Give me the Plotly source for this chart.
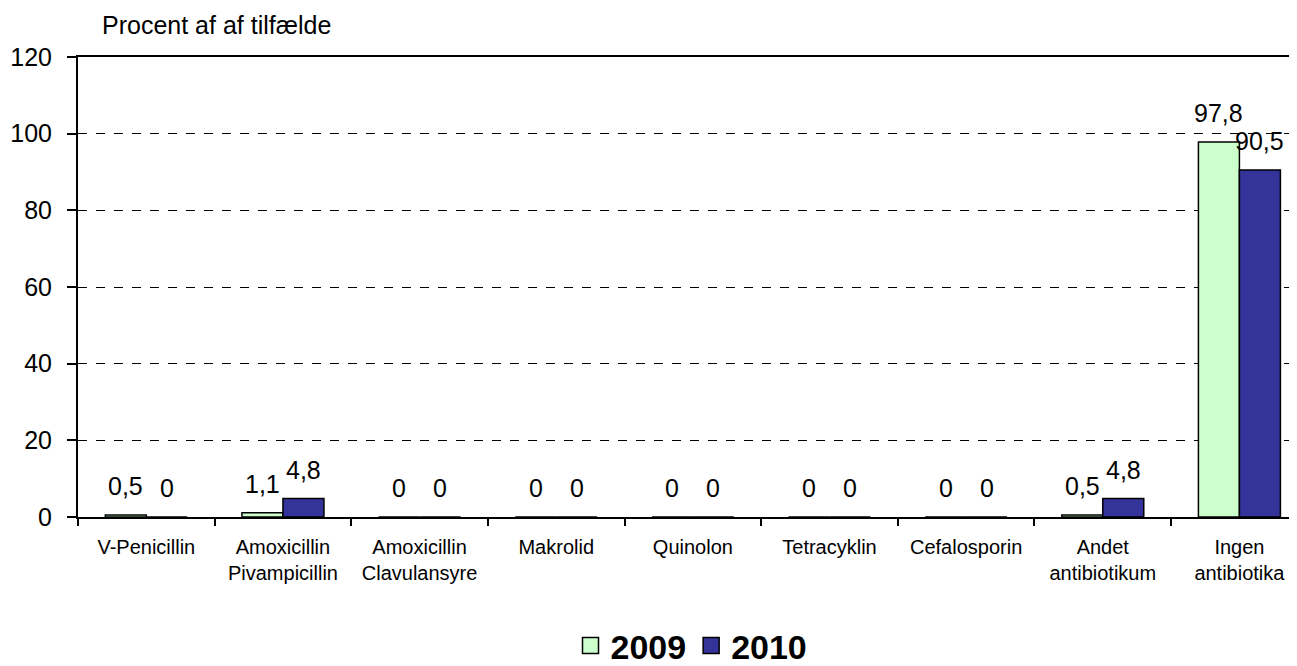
import plotly.graph_objects as go

# %%
kategorier = ["V-Penicillin", "Amoxicillin<br>Pivampicillin", "Amoxicillin<br>Clavulansyre",
              "Makrolid", "Quinolon", "Tetracyklin", "Cefalosporin",
              "Andet<br>antibiotikum", "Ingen<br>antibiotika"]
vaerdier_2009 = [0.5, 1.1, 0, 0, 0, 0, 0, 0.5, 97.8]
vaerdier_2010 = [0, 4.8, 0, 0, 0, 0, 0, 4.8, 90.5]
y_ticks = [0, 20, 40, 60, 80, 100, 120]

FONT = "Arial, Liberation Sans, sans-serif"
FARVER = {"2009": "#CCFFCC", "2010": "#333399"}


def komma(v):
    return ("%g" % v).replace(".", ",")


# %%
fig = go.Figure()
for navn, serie in [("2009", vaerdier_2009), ("2010", vaerdier_2010)]:
    fig.add_trace(go.Bar(x=kategorier, y=serie, name=navn, showlegend=False,
                         marker=dict(color=FARVER[navn], line=dict(color="black", width=1.5))))
    # kun til forklaringen (større firkanter)
    fig.add_trace(go.Scatter(x=[None], y=[None], name=navn, mode="markers",
                             marker=dict(symbol="square", size=16, color=FARVER[navn],
                                         line=dict(color="black", width=1.5))))

# datalabels over hver søjle
for serie, skift in [(vaerdier_2009, -20.5), (vaerdier_2010, 20.5)]:
    for kat, v in zip(kategorier, serie):
        fig.add_annotation(x=kat, y=v, text=komma(v), showarrow=False,
                           xshift=skift, yshift=13, yanchor="bottom",
                           font=dict(family=FONT, size=25, color="black"))

fig.add_annotation(text="Procent af af tilfælde", xref="paper", yref="paper",
                   x=0.018, y=1.0, yshift=32, xanchor="left", yanchor="middle",
                   showarrow=False, font=dict(family=FONT, size=25, color="black"))

fig.update_layout(
    width=1297, height=666,
    margin=dict(l=70, r=0, t=49, b=157),
    paper_bgcolor="white", plot_bgcolor="white",
    barmode="group", bargap=0.4, bargroupgap=0,
    font=dict(family=FONT, color="black"),
    xaxis=dict(range=[-0.5, 8.48], showline=True, linecolor="black", linewidth=2,
               mirror=True, ticks="outside", tickson="boundaries", ticklen=7,
               tickcolor="black", tickwidth=2, showgrid=False, automargin=False,
               ticklabelstandoff=11,
               tickfont=dict(family=FONT, size=20, color="black")),
    yaxis=dict(range=[0, 120], tickvals=y_ticks, showline=True, linecolor="black",
               linewidth=2, ticks="outside", ticklen=9, tickcolor="black", tickwidth=2,
               showgrid=True, gridcolor="black", griddash="dash", gridwidth=1,
               zeroline=False, automargin=False, ticklabelstandoff=10,
               tickfont=dict(family=FONT, size=25, color="black")),
    legend=dict(orientation="h", x=0.5, xanchor="center", xref="paper",
                y=28 / 666, yref="container", yanchor="middle",
                font=dict(family=FONT, size=34, color="black", weight="bold")),
)

fig.write_html("out.html")
